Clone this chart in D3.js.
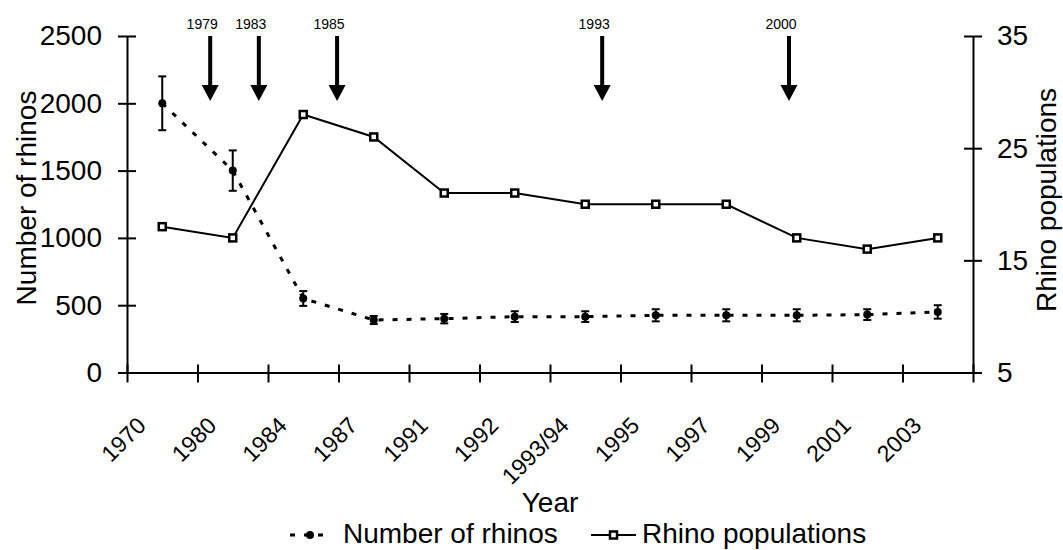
<!DOCTYPE html>
<html><head><meta charset="utf-8">
<script src="https://cdn.jsdelivr.net/npm/d3@7"></script>
<style>
html,body{margin:0;padding:0;background:#fff;}
svg{display:block;font-family:"Liberation Sans",Arial,sans-serif;}
</style></head>
<body><svg id="chart" width="1063" height="550"></svg>
<script>
const categories = ["1970","1980","1984","1987","1991","1992","1993/94","1995","1997","1999","2001","2003"];
const rhinoNumbers = [2000,1500,550,390,400,415,415,425,425,425,430,450];
const rhinoErrors = [200,150,55,30,35,40,40,45,45,45,40,50];
const rhinoPopulations = [18,17,28,26,21,21,20,20,20,17,16,17];
const leftTicks = [0,500,1000,1500,2000,2500];
const rightTicks = [5,15,25,35];
const arrowLabels = ["1979","1983","1985","1993","2000"];
const arrowPositions = [1.18,1.87,2.98,6.74,9.39];

const svg = d3.select("#chart");
const L = 127, R = 973, T = 36, B = 372.5;
const x = d3.scaleLinear().domain([0, categories.length]).range([L, R]);
const cx = i => x(i + 0.5);
const yL = d3.scaleLinear().domain([0, 2500]).range([B, T]);
const yR = d3.scaleLinear().domain([5, 35]).range([B, T]);

// Axes
const ax = svg.append("g").attr("transform", `translate(0,${B})`)
  .call(d3.axisBottom(x).tickValues(d3.range(0, categories.length + 1)).tickFormat("").tickSizeOuter(0));
ax.selectAll(".tick line").attr("y1", -8).attr("y2", 10);
const al = svg.append("g").attr("transform", `translate(${L},0)`)
  .call(d3.axisLeft(yL).tickValues(leftTicks).tickFormat(d3.format("d")).tickSize(9).tickPadding(16).tickSizeOuter(0));
al.selectAll(".tick line").attr("x1", 9).attr("x2", -9);
const ar = svg.append("g").attr("transform", `translate(${R},0)`)
  .call(d3.axisRight(yR).tickValues(rightTicks).tickFormat(d3.format("d")).tickSize(9).tickPadding(15).tickSizeOuter(0));
ar.selectAll(".tick line").attr("x1", -9).attr("x2", 9);
svg.selectAll(".domain").attr("stroke", "#000").attr("stroke-width", 2);
svg.selectAll(".tick line").attr("stroke", "#000").attr("stroke-width", 2);
svg.selectAll(".tick text").attr("font-size", 28).attr("fill", "#000").attr("font-family", "Liberation Sans, Arial, sans-serif");

// X labels
svg.append("g").selectAll("text").data(categories).join("text")
  .attr("transform", (d, i) => `translate(${cx(i) - 15},427) rotate(-45)`)
  .attr("text-anchor", "end").attr("font-size", 23).text(d => d);

// Titles
svg.append("text").attr("x", 550).attr("y", 512).attr("text-anchor", "middle").attr("font-size", 28).text("Year");
svg.append("text").attr("transform", `translate(36,198) rotate(-90)`).attr("text-anchor", "middle").attr("font-size", 28).text("Number of rhinos");
svg.append("text").attr("transform", `translate(1056,200) rotate(-90)`).attr("text-anchor", "middle").attr("font-size", 28).text("Rhino populations");

// Populations line
svg.append("path").datum(rhinoPopulations)
  .attr("d", d3.line().x((d, i) => cx(i)).y(d => yR(d)))
  .attr("fill", "none").attr("stroke", "#000").attr("stroke-width", 2);
svg.append("g").selectAll("rect").data(rhinoPopulations).join("rect")
  .attr("x", (d, i) => cx(i) - 3.5).attr("y", d => yR(d) - 3.5).attr("width", 7).attr("height", 7)
  .attr("fill", "#fff").attr("stroke", "#000").attr("stroke-width", 2.5);

// Number of rhinos dashed line
svg.append("path").datum(rhinoNumbers)
  .attr("d", d3.line().x((d, i) => cx(i)).y(d => yL(d)))
  .attr("fill", "none").attr("stroke", "#000").attr("stroke-width", 3).attr("stroke-dasharray", "5,9");
const eb = svg.append("g").attr("stroke", "#000").attr("stroke-width", 2);
rhinoNumbers.forEach((v, i) => {
  const e = rhinoErrors[i];
  eb.append("line").attr("x1", cx(i)).attr("x2", cx(i)).attr("y1", yL(v + e)).attr("y2", yL(v - e));
  eb.append("line").attr("x1", cx(i) - 4).attr("x2", cx(i) + 4).attr("y1", yL(v + e)).attr("y2", yL(v + e));
  eb.append("line").attr("x1", cx(i) - 4).attr("x2", cx(i) + 4).attr("y1", yL(v - e)).attr("y2", yL(v - e));
});
svg.append("g").selectAll("circle").data(rhinoNumbers).join("circle")
  .attr("cx", (d, i) => cx(i)).attr("cy", d => yL(d)).attr("r", 4).attr("fill", "#000");

// Arrows
const arr = svg.append("g");
arrowPositions.forEach((p, i) => {
  const ax0 = x(p);
  arr.append("rect").attr("x", ax0 - 2).attr("y", 36).attr("width", 4).attr("height", 50).attr("fill", "#000");
  arr.append("path").attr("d", `M${ax0 - 8.5},85 L${ax0 + 8.5},85 L${ax0},101 Z`).attr("fill", "#000");
  arr.append("text").attr("x", ax0 - 8).attr("y", 29).attr("text-anchor", "middle").attr("font-size", 14).text(arrowLabels[i]);
});

// Legend
const lg = svg.append("g");
lg.append("line").attr("x1", 288).attr("x2", 332).attr("y1", 535).attr("y2", 535)
  .attr("stroke", "#000").attr("stroke-width", 3).attr("stroke-dasharray", "5,9").attr("stroke-dashoffset", -2);
lg.append("circle").attr("cx", 310).attr("cy", 535).attr("r", 4).attr("fill", "#000");
lg.append("text").attr("x", 343).attr("y", 543).attr("font-size", 28).text("Number of rhinos");
lg.append("line").attr("x1", 591).attr("x2", 636).attr("y1", 535).attr("y2", 535).attr("stroke", "#000").attr("stroke-width", 2);
lg.append("rect").attr("x", 610).attr("y", 531.5).attr("width", 7).attr("height", 7).attr("fill", "#fff").attr("stroke", "#000").attr("stroke-width", 2.5);
lg.append("text").attr("x", 642).attr("y", 543).attr("font-size", 28).text("Rhino populations");
</script></body></html>
